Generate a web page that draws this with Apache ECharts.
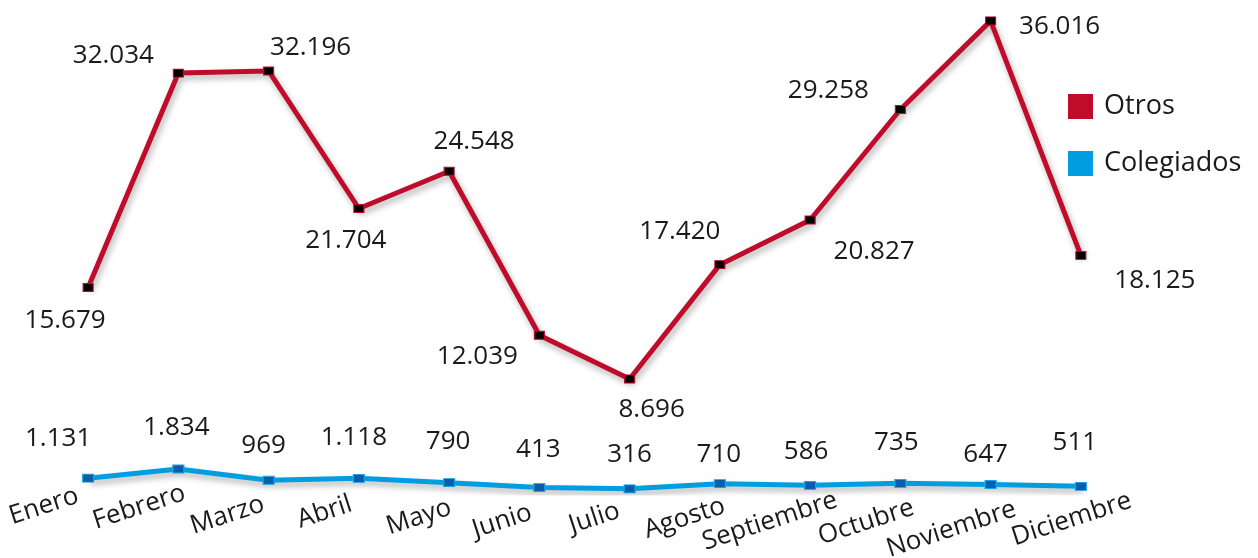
<!DOCTYPE html>
<html>
<head>
<meta charset="utf-8">
<script src="https://cdn.jsdelivr.net/npm/echarts@6/dist/echarts.min.js"></script>
<style>
  html, body { margin: 0; padding: 0; background: #ffffff; }
  #chart { width: 1258px; height: 558px; }
</style>
</head>
<body>
<div id="chart"></div>
<script>
// datos
var meses = ['Enero', 'Febrero', 'Marzo', 'Abril', 'Mayo', 'Junio', 'Julio', 'Agosto', 'Septiembre', 'Octubre', 'Noviembre', 'Diciembre'];
var otros = [15679, 32034, 32196, 21704, 24548, 12039, 8696, 17420, 20827, 29258, 36016, 18125];
var colegiados = [1131, 1834, 969, 1118, 790, 413, 316, 710, 586, 735, 647, 511];

// desplazamiento de las etiquetas respecto al punto
var offsetOtros = [[-23, 33], [-65, -18], [42, -23], [-13, 32], [25, -30], [-62, 21], [22, 31], [-40, -33], [64, 32], [-72, -19], [69, 6], [74, 25]];
var offsetColegiados = [[-30, -40], [-2, -41], [-5, -35], [-5, -41], [-1, -41], [-1, -38], [0, -34], [-1, -29], [-4, -34], [-4, -41], [-5, -30], [-6, -44]];
// posicion (centro de la linea base) de cada mes respecto a su marca del eje
var offsetMeses = [[-43, 17], [-38, 18], [-40, 26], [-33, 23], [-29, 28], [-36, 32], [-34, 29], [-34, 29], [-39, 32], [-33, 33], [-38, 40], [-8, 30]];

var fuente = '"Open Sans", "Noto Sans", sans-serif';
var giro = 18;
var tamMes = 26;
var margen = -24;

function fmt(v) {
  return String(v).replace(/\B(?=(\d{3})+(?!\d))/g, '.');
}

function puntos(valores, offsets) {
  return valores.map(function (v, i) {
    return {
      value: v,
      label: { offset: offsets[i] }
    };
  });
}

// mueve cada etiqueta girada con padding (a lo largo y a lo ancho del texto)
function categorias() {
  var a = giro * Math.PI / 180;
  var c = Math.cos(a), s = Math.sin(a);
  var base = 17; // de la parte de arriba a la linea base
  return meses.map(function (m, i) {
    var dx = offsetMeses[i][0], dy = offsetMeses[i][1] - margen;
    var along = dx * c - dy * s;
    var perp = Math.max(0, dx * s + dy * c - base);
    var pad = [perp, 0, 0, 0];
    if (along < 0) pad[1] = -2 * along; else pad[3] = 2 * along;
    return {
      value: m,
      textStyle: { padding: pad, align: 'center', verticalAlign: 'top' }
    };
  });
}

var chart = echarts.init(document.getElementById('chart'));
var option = {
  backgroundColor: '#ffffff',
  animation: false,
  grid: { left: 43, right: 132, top: 8, bottom: 65, outerBoundsMode: 'none', containLabel: false },
  legend: {
    orient: 'vertical',
    left: 1063,
    top: 88,
    itemWidth: 25,
    itemHeight: 25,
    itemGap: 30,
    icon: 'rect',
    textStyle: { fontSize: 27, color: '#1a1a1a', fontFamily: fuente, padding: [0, 0, 0, 6] },
    data: [
      { name: 'Otros', itemStyle: { color: '#C00C2B', borderWidth: 0 } },
      { name: 'Colegiados', itemStyle: { color: '#009EE0', borderWidth: 0 } }
    ]
  },
  xAxis: {
    type: 'category',
    data: categorias(),
    boundaryGap: true,
    axisLine: { show: false },
    axisTick: { show: false },
    axisLabel: {
      rotate: giro,
      margin: margen,
      fontSize: tamMes,
      color: '#1a1a1a',
      fontFamily: fuente,
      interval: 0,
      hideOverlap: false
    }
  },
  yAxis: {
    type: 'value',
    min: 0,
    max: 37000,
    show: false,
    splitLine: { show: false }
  },
  series: [
    {
      name: 'Otros',
      type: 'line',
      data: puntos(otros, offsetOtros),
      symbol: 'rect',
      symbolSize: [10, 8],
      lineStyle: {
        color: '#C00C2B',
        width: 5,
        shadowColor: 'rgba(0,0,0,0.3)',
        shadowBlur: 6,
        shadowOffsetX: 2,
        shadowOffsetY: 4
      },
      itemStyle: { color: '#000000', borderColor: '#C00C2B', borderWidth: 1 },
      label: {
        show: true,
        position: 'inside',
        fontSize: 26,
        color: '#1a1a1a',
        fontFamily: fuente,
        formatter: function (p) { return fmt(p.value); }
      },
      z: 3
    },
    {
      name: 'Colegiados',
      type: 'line',
      data: puntos(colegiados, offsetColegiados),
      symbol: 'rect',
      symbolSize: [11, 8],
      lineStyle: {
        color: '#009EE0',
        width: 5,
        shadowColor: 'rgba(0,0,0,0.3)',
        shadowBlur: 6,
        shadowOffsetX: 2,
        shadowOffsetY: 4
      },
      itemStyle: { color: '#0B5DA8', borderColor: '#1AA6E6', borderWidth: 1 },
      label: {
        show: true,
        position: 'inside',
        fontSize: 26,
        color: '#1a1a1a',
        fontFamily: fuente,
        formatter: function (p) { return fmt(p.value); }
      },
      z: 2
    }
  ]
};
chart.setOption(option);
</script>
</body>
</html>
